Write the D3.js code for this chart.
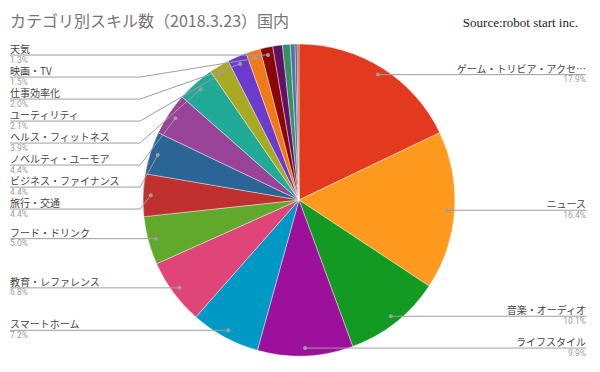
<!DOCTYPE html>
<html>
<head>
<meta charset="utf-8">
<script src="https://cdn.jsdelivr.net/npm/d3@7"></script>
<style>
    body { margin: 0; background: #fff; }
    #chart { width: 600px; height: 372px; }
    text { font-family: "Noto Sans CJK JP", "Noto Sans", sans-serif; }
</style>
</head>
<body>
<div id="chart"></div>
<script>
(function () {
    "use strict";

    // skill categories, clockwise from 12 o'clock (last ones are tiny unlabeled slices)
    const categories = [
        "ゲーム・トリビア・アクセ…", "ニュース", "音楽・オーディオ", "ライフスタイル",
        "スマートホーム", "教育・レファレンス", "フード・ドリンク", "旅行・交通",
        "ビジネス・ファイナンス", "ノベルティ・ユーモア", "ヘルス・フィットネス",
        "ユーティリティ", "仕事効率化", "映画・TV", "天気", "", "", "", "", ""
    ];
    // share of skills, percent
    const values = [17.9, 16.4, 10.1, 9.9, 7.2, 6.8, 5.0, 4.4, 4.4, 4.4, 3.9, 2.1, 2.0, 1.5, 1.3, 1.0, 0.8, 0.5, 0.2, 0.2];
    const colors = [
        "#e2391f", "#ff9a1f", "#129a23", "#9c109c", "#0099c6", "#e0457a", "#60a92c",
        "#c0302e", "#2a6596", "#994499", "#22aa99", "#aaaa22", "#6a3bcc", "#f07a1a",
        "#8b0707", "#651067", "#329262", "#5574a6", "#3b3eac", "#b77322"
    ];

    const width = 600, height = 372;
    const cx = 299, cy = 200, radius = 156;
    const dotRadius = radius * 0.95;
    const labelGap = 22;

    let svg = d3.select("#chart").append("svg").attr("width", width).attr("height", height);

    svg.append("text")
        .attr("x", 10)
        .attr("y", 27)
        .attr("font-size", 16)
        .attr("fill", "#757575")
        .text("カテゴリ別スキル数（2018.3.23）国内");

    svg.append("text")
        .attr("x", 578)
        .attr("y", 27)
        .attr("text-anchor", "end")
        .attr("font-size", 13)
        .style("font-family", "'Liberation Serif', 'DejaVu Serif', serif")
        .attr("fill", "#222")
        .text("Source:robot start inc.");

    let data = categories.map((name, i) => ({ name: name, value: values[i], color: colors[i] }));

    let pie = d3.pie().sort(null).value((d) => d.value);
    let arc = d3.arc().innerRadius(0).outerRadius(radius);
    let dotArc = d3.arc().innerRadius(dotRadius).outerRadius(dotRadius);
    let arcs = pie(data);

    let g = svg.append("g").attr("transform", `translate(${cx},${cy})`);

    g.selectAll("path")
        .data(arcs)
        .enter()
        .append("path")
        .attr("d", arc)
        .attr("fill", (d) => d.data.color)
        .attr("stroke", "#fff")
        .attr("stroke-width", 0.4);

    // label layout: dot on slice, then push labels apart on each side
    let labels = arcs
        .filter((d) => d.data.name !== "")
        .map((d) => {
            let p = dotArc.centroid(d);
            let mid = (d.startAngle + d.endAngle) / 2;
            return { d: d, x: cx + p[0], y: cy + p[1], side: mid < Math.PI ? "right" : "left" };
        });

    ["left", "right"].forEach((side) => {
        let list = labels.filter((l) => l.side === side).sort((a, b) => a.y - b.y);
        let last = -Infinity;
        list.forEach((l) => {
            l.ly = Math.max(l.y, last + labelGap);
            last = l.ly;
        });
    });

    let lineColor = "#9e9e9e";

    labels.forEach((l) => {
        let left = l.side === "left";
        let textX = left ? 10 : 586;
        let elbowX = left ? 140 : 460;
        let pts = left
            ? [[textX, l.ly], [Math.min(elbowX, l.x), l.ly], [l.x, l.y]]
            : [[l.x, l.y], [Math.max(elbowX, l.x), l.ly], [textX, l.ly]];

        svg.append("path")
            .attr("d", d3.line()(pts))
            .attr("fill", "none")
            .attr("stroke", lineColor)
            .attr("stroke-width", 1);

        svg.append("circle")
            .attr("cx", l.x)
            .attr("cy", l.y)
            .attr("r", 2)
            .attr("fill", lineColor);

        svg.append("text")
            .attr("x", textX)
            .attr("y", l.ly - 2)
            .attr("text-anchor", left ? "start" : "end")
            .attr("font-size", 10)
            .attr("fill", "#444")
            .text(l.d.data.name);

        svg.append("text")
            .attr("x", textX)
            .attr("y", l.ly + 7.5)
            .attr("text-anchor", left ? "start" : "end")
            .attr("font-size", 8.5)
            .style("font-family", "Roboto, 'Noto Sans', sans-serif")
            .attr("fill", "#9e9e9e")
            .text(l.d.data.value.toFixed(1) + "%");
    });
})();
</script>
</body>
</html>
